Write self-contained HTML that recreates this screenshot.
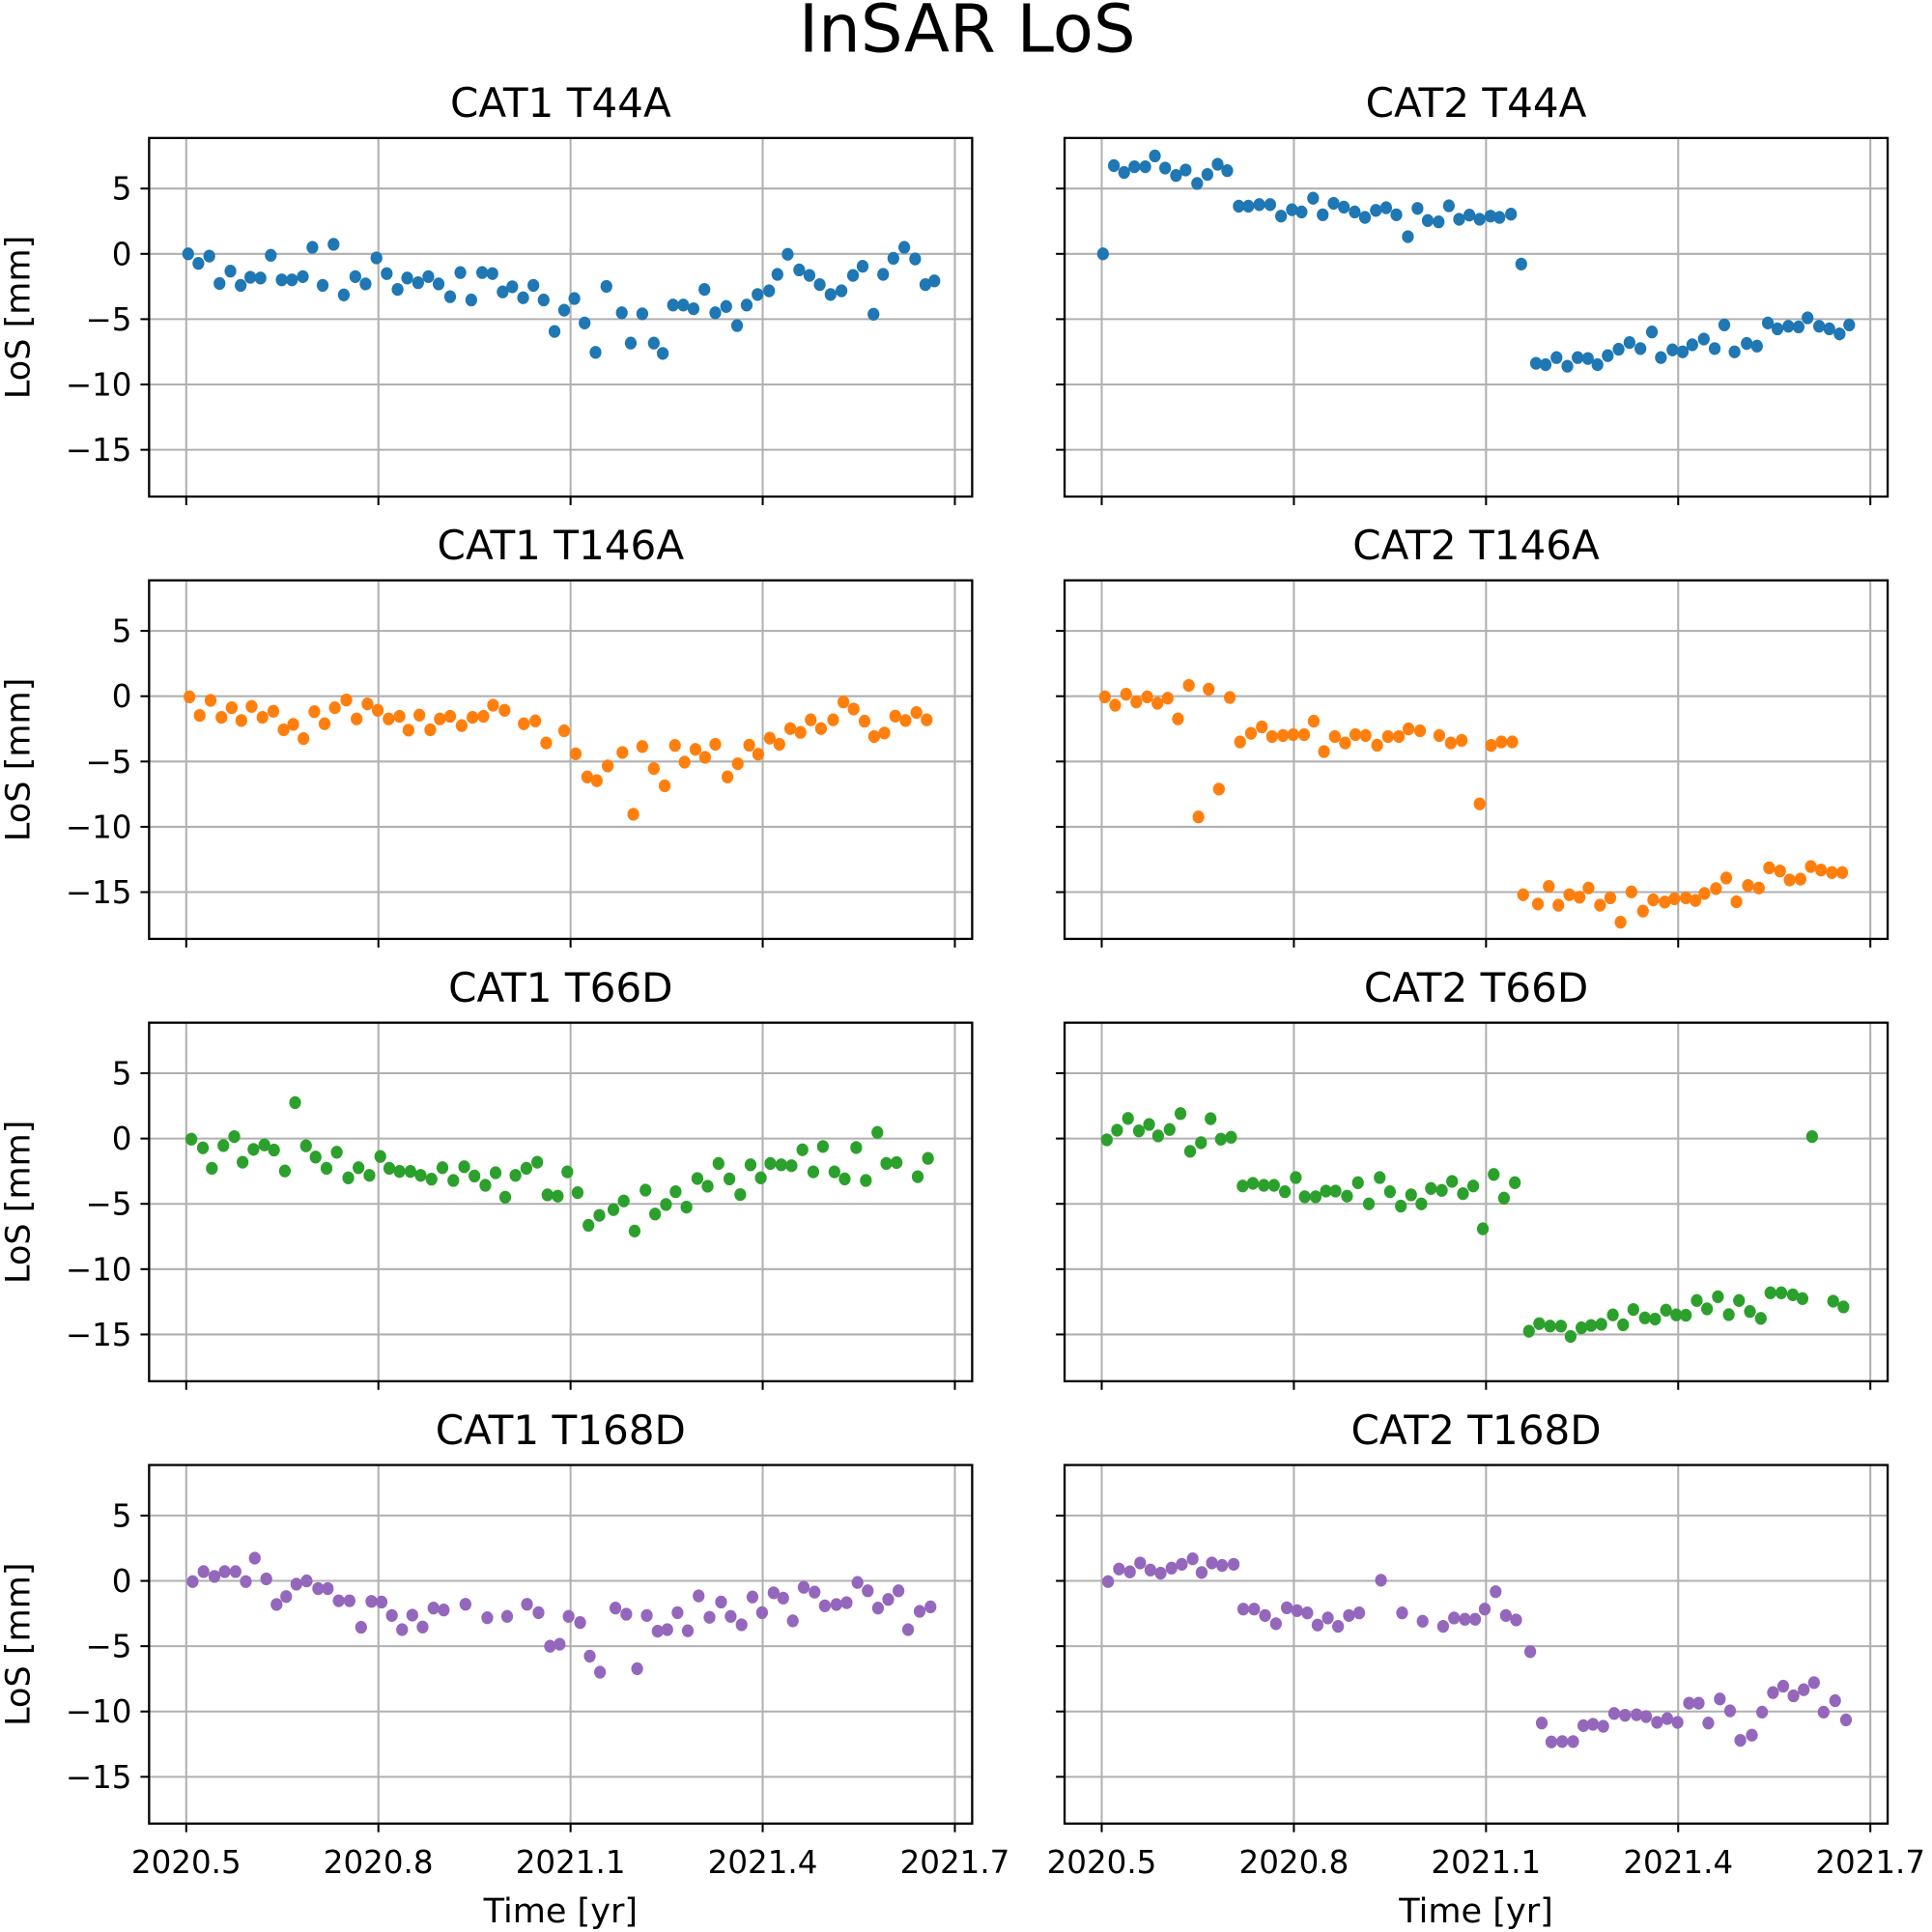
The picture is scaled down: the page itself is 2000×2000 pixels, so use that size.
<!DOCTYPE html>
<html><head><meta charset="utf-8"><style>
html,body{margin:0;padding:0;background:#fff}
svg{display:block}
text{font-family:"DejaVu Sans","Liberation Sans",sans-serif;fill:#000}
</style></head><body>
<svg id="fig" width="2000" height="2000" viewBox="0 0 1568 1568" xmlns="http://www.w3.org/2000/svg">
<rect width="1568" height="1568" fill="#fff"/>
<text x="785" y="42" font-size="54" text-anchor="middle">InSAR LoS</text>
</svg>
<script>
const panelTitles = ["CAT1 T44A","CAT2 T44A","CAT1 T146A","CAT2 T146A","CAT1 T66D","CAT2 T66D","CAT1 T168D","CAT2 T168D"];
const panelColors = ["#1f77b4","#1f77b4","#ff7f0e","#ff7f0e","#2ca02c","#2ca02c","#9467bd","#9467bd"];
const yTicks = [5,0,-5,-10,-15];
const yTickLabels = ["5","0","\u22125","\u221210","\u221215"];
const xTicks = [2020.5,2020.8,2021.1,2021.4,2021.7];
const xTickLabels = ["2020.5","2020.8","2021.1","2021.4","2021.7"];
const yLim = [-18.58, 8.87];
const xLim = [2020.442, 2021.727];

const t0 = [2020.503,2020.519,2020.536,2020.552,2020.569,2020.585,2020.600,2020.616,2020.632,2020.649,2020.665,2020.682,2020.697,2020.713,2020.730,2020.746,2020.764,2020.780,2020.797,2020.813,2020.830,2020.845,2020.862,2020.878,2020.894,2020.912,2020.928,2020.945,2020.962,2020.978,2020.994,2021.009,2021.026,2021.042,2021.058,2021.075,2021.090,2021.106,2021.122,2021.139,2021.156,2021.180,2021.194,2021.212,2021.230,2021.244,2021.260,2021.276,2021.292,2021.309,2021.326,2021.343,2021.360,2021.375,2021.392,2021.410,2021.423,2021.439,2021.457,2021.473,2021.489,2021.506,2021.523,2021.541,2021.556,2021.573,2021.588,2021.604,2021.621,2021.638,2021.654,2021.668];
const v0 = [0,-0.73,-0.17,-2.27,-1.32,-2.41,-1.79,-1.85,-0.11,-1.99,-1.99,-1.74,0.50,-2.41,0.73,-3.14,-1.74,-2.30,-0.31,-1.51,-2.72,-1.85,-2.21,-1.74,-2.30,-3.28,-1.43,-3.53,-1.43,-1.51,-2.91,-2.52,-3.36,-2.41,-3.53,-5.94,-4.31,-3.42,-5.29,-7.54,-2.49,-4.51,-6.83,-4.59,-6.83,-7.62,-3.92,-3.92,-4.20,-2.72,-4.51,-4.03,-5.49,-3.92,-3.11,-2.83,-1.57,-0.03,-1.23,-1.65,-2.35,-3.11,-2.83,-1.65,-0.95,-4.62,-1.57,-0.34,0.50,-0.39,-2.35,-2.07];

const t1 = [2020.502,2020.519,2020.535,2020.551,2020.568,2020.583,2020.599,2020.616,2020.631,2020.649,2020.665,2020.681,2020.696,2020.714,2020.729,2020.746,2020.763,2020.780,2020.797,2020.812,2020.830,2020.845,2020.862,2020.878,2020.895,2020.911,2020.928,2020.944,2020.960,2020.978,2020.993,2021.009,2021.026,2021.042,2021.058,2021.074,2021.090,2021.107,2021.121,2021.139,2021.155,2021.178,2021.193,2021.210,2021.227,2021.243,2021.259,2021.274,2021.290,2021.307,2021.324,2021.341,2021.359,2021.373,2021.391,2021.407,2021.422,2021.440,2021.457,2021.472,2021.488,2021.507,2021.523,2021.540,2021.555,2021.572,2021.588,2021.602,2021.620,2021.636,2021.652,2021.667];
const v1 = [0,6.76,6.23,6.67,6.67,7.50,6.57,6.00,6.42,5.39,6.08,6.86,6.37,3.65,3.65,3.77,3.77,2.89,3.38,3.21,4.26,2.99,3.87,3.58,3.21,2.79,3.33,3.53,2.99,1.32,3.48,2.55,2.45,3.68,2.65,2.97,2.65,2.89,2.79,3.04,-0.78,-8.38,-8.48,-7.94,-8.60,-7.94,-8.01,-8.48,-7.79,-7.30,-6.79,-7.25,-5.98,-7.94,-7.35,-7.50,-6.96,-6.52,-7.25,-5.44,-7.50,-6.86,-7.06,-5.29,-5.74,-5.54,-5.59,-4.90,-5.54,-5.74,-6.13,-5.44];

const t2 = [2020.505,2020.521,2020.538,2020.555,2020.571,2020.586,2020.602,2020.619,2020.636,2020.652,2020.667,2020.683,2020.700,2020.716,2020.732,2020.750,2020.766,2020.783,2020.799,2020.816,2020.833,2020.847,2020.864,2020.881,2020.896,2020.912,2020.930,2020.947,2020.964,2020.979,2020.997,2021.027,2021.045,2021.062,2021.090,2021.108,2021.126,2021.141,2021.158,2021.181,2021.198,2021.212,2021.230,2021.247,2021.263,2021.278,2021.295,2021.310,2021.326,2021.345,2021.361,2021.379,2021.393,2021.411,2021.426,2021.443,2021.459,2021.475,2021.491,2021.510,2021.526,2021.542,2021.559,2021.574,2021.590,2021.607,2021.623,2021.640,2021.656];
const v2 = [-0.05,-1.47,-0.32,-1.62,-0.88,-1.86,-0.78,-1.62,-1.15,-2.57,-2.16,-3.24,-1.18,-2.11,-0.88,-0.29,-1.74,-0.59,-1.08,-1.74,-1.54,-2.60,-1.45,-2.57,-1.74,-1.54,-2.25,-1.62,-1.54,-0.69,-1.08,-2.11,-1.89,-3.58,-2.65,-4.41,-6.18,-6.47,-5.34,-4.31,-9.04,-3.85,-5.54,-6.86,-3.77,-5.05,-4.07,-4.68,-3.68,-6.18,-5.17,-3.75,-4.44,-3.21,-3.68,-2.48,-2.77,-1.81,-2.48,-1.81,-0.44,-0.98,-1.91,-3.09,-2.82,-1.52,-1.86,-1.25,-1.81];

const t3 = [2020.505,2020.521,2020.538,2020.554,2020.571,2020.587,2020.603,2020.619,2020.636,2020.651,2020.667,2020.683,2020.700,2020.716,2020.733,2020.750,2020.766,2020.783,2020.799,2020.816,2020.831,2020.847,2020.864,2020.880,2020.896,2020.912,2020.930,2020.947,2020.964,2020.979,2020.997,2021.027,2021.045,2021.062,2021.090,2021.108,2021.124,2021.141,2021.158,2021.181,2021.198,2021.213,2021.230,2021.246,2021.260,2021.278,2021.294,2021.310,2021.327,2021.345,2021.361,2021.379,2021.394,2021.412,2021.427,2021.441,2021.459,2021.475,2021.491,2021.509,2021.526,2021.542,2021.559,2021.574,2021.591,2021.607,2021.623,2021.640,2021.656];
const v3 = [-0.05,-0.69,0.15,-0.44,-0.05,-0.54,-0.15,-1.74,0.83,-9.24,0.54,-7.11,-0.10,-3.50,-2.84,-2.35,-3.09,-3.01,-2.94,-2.94,-1.91,-4.24,-3.09,-3.58,-2.94,-3.01,-3.75,-3.09,-3.09,-2.50,-2.65,-3.01,-3.58,-3.38,-8.24,-3.77,-3.50,-3.50,-15.20,-15.91,-14.56,-16.00,-15.20,-15.39,-14.68,-16.00,-15.44,-17.30,-14.98,-16.45,-15.59,-15.76,-15.51,-15.44,-15.64,-15.10,-14.73,-13.92,-15.74,-14.49,-14.68,-13.14,-13.38,-14.07,-14.00,-13.04,-13.31,-13.50,-13.50];

const t4 = [2020.508,2020.526,2020.540,2020.558,2020.575,2020.588,2020.605,2020.622,2020.637,2020.654,2020.670,2020.687,2020.702,2020.719,2020.735,2020.753,2020.769,2020.786,2020.803,2020.817,2020.833,2020.850,2020.866,2020.883,2020.900,2020.917,2020.934,2020.950,2020.967,2020.983,2020.998,2021.014,2021.031,2021.048,2021.064,2021.080,2021.095,2021.111,2021.128,2021.145,2021.167,2021.183,2021.200,2021.217,2021.232,2021.249,2021.264,2021.281,2021.298,2021.314,2021.331,2021.348,2021.365,2021.381,2021.397,2021.412,2021.429,2021.445,2021.462,2021.479,2021.494,2021.512,2021.528,2021.546,2021.561,2021.579,2021.593,2021.609,2021.642,2021.658];
const v4 = [-0.05,-0.71,-2.28,-0.54,0.15,-1.81,-0.83,-0.49,-0.88,-2.48,2.75,-0.56,-1.42,-2.28,-1.05,-3.01,-2.23,-2.82,-1.37,-2.28,-2.52,-2.52,-2.82,-3.11,-2.23,-3.21,-2.16,-2.87,-3.58,-2.62,-4.49,-2.82,-2.28,-1.81,-4.31,-4.41,-2.55,-4.14,-6.64,-5.88,-5.44,-4.78,-7.08,-3.95,-5.78,-5.05,-4.07,-5.25,-3.06,-3.65,-1.91,-3.09,-4.29,-2.01,-3.01,-1.91,-2.01,-2.08,-0.86,-2.55,-0.61,-2.55,-3.09,-0.69,-3.21,0.47,-1.91,-1.84,-2.92,-1.52];

const t5 = [2020.508,2020.524,2020.541,2020.558,2020.574,2020.588,2020.606,2020.623,2020.638,2020.655,2020.670,2020.686,2020.702,2020.720,2020.736,2020.753,2020.769,2020.786,2020.803,2020.817,2020.834,2020.850,2020.865,2020.883,2020.900,2020.917,2020.934,2020.950,2020.967,2020.983,2020.999,2021.014,2021.031,2021.047,2021.064,2021.080,2021.095,2021.112,2021.128,2021.145,2021.167,2021.183,2021.200,2021.217,2021.232,2021.249,2021.264,2021.280,2021.298,2021.314,2021.330,2021.348,2021.364,2021.381,2021.397,2021.412,2021.429,2021.445,2021.462,2021.479,2021.495,2021.512,2021.529,2021.544,2021.561,2021.579,2021.594,2021.609,2021.642,2021.658];
const v5 = [-0.10,0.64,1.54,0.59,1.08,0.20,0.69,1.91,-0.98,-0.32,1.52,-0.05,0.10,-3.63,-3.43,-3.58,-3.58,-4.07,-2.99,-4.46,-4.46,-4.02,-4.02,-4.41,-3.38,-5.00,-2.99,-4.07,-5.17,-4.31,-5.00,-3.82,-3.97,-3.28,-4.22,-3.63,-6.91,-2.75,-4.56,-3.38,-14.75,-14.17,-14.36,-14.36,-15.15,-14.49,-14.31,-14.22,-13.50,-14.26,-13.09,-13.73,-13.82,-13.14,-13.50,-13.53,-12.40,-13.04,-12.11,-13.48,-12.40,-13.24,-13.77,-11.81,-11.81,-11.96,-12.25,0.15,-12.45,-12.89];

const t6 = [2020.510,2020.527,2020.544,2020.560,2020.577,2020.593,2020.607,2020.625,2020.641,2020.656,2020.672,2020.688,2020.706,2020.721,2020.738,2020.755,2020.773,2020.789,2020.805,2020.821,2020.837,2020.853,2020.869,2020.886,2020.902,2020.936,2020.970,2021.001,2021.032,2021.050,2021.068,2021.083,2021.097,2021.115,2021.130,2021.146,2021.170,2021.187,2021.204,2021.219,2021.236,2021.251,2021.267,2021.283,2021.300,2021.317,2021.335,2021.350,2021.367,2021.384,2021.399,2021.417,2021.432,2021.447,2021.464,2021.481,2021.497,2021.515,2021.531,2021.548,2021.564,2021.580,2021.596,2021.612,2021.627,2021.645,2021.662];
const v6 = [-0.05,0.71,0.34,0.71,0.71,-0.05,1.74,0.15,-1.81,-1.20,-0.25,0,-0.59,-0.59,-1.52,-1.52,-3.55,-1.57,-1.62,-2.65,-3.73,-2.62,-3.53,-2.08,-2.23,-1.79,-2.82,-2.72,-1.79,-2.43,-5.00,-4.85,-2.72,-3.19,-5.76,-6.99,-2.08,-2.55,-6.72,-2.65,-3.85,-3.73,-2.43,-3.82,-1.15,-2.79,-1.62,-2.72,-3.36,-1.23,-2.43,-0.91,-1.32,-3.06,-0.49,-0.86,-1.91,-1.81,-1.67,-0.12,-0.76,-2.08,-1.42,-0.76,-3.73,-2.33,-1.99];

const t7 = [2020.510,2020.527,2020.544,2020.560,2020.576,2020.592,2020.609,2020.625,2020.642,2020.656,2020.672,2020.688,2020.706,2020.721,2020.738,2020.755,2020.772,2020.789,2020.805,2020.821,2020.837,2020.853,2020.869,2020.886,2020.902,2020.936,2020.969,2021.001,2021.033,2021.050,2021.067,2021.083,2021.098,2021.115,2021.131,2021.147,2021.169,2021.187,2021.202,2021.219,2021.236,2021.252,2021.267,2021.283,2021.300,2021.317,2021.335,2021.350,2021.367,2021.383,2021.399,2021.417,2021.432,2021.447,2021.465,2021.481,2021.497,2021.515,2021.531,2021.548,2021.564,2021.580,2021.596,2021.612,2021.627,2021.645,2021.662];
const v7 = [-0.05,0.91,0.69,1.37,0.83,0.59,0.98,1.27,1.69,0.64,1.37,1.18,1.27,-2.16,-2.16,-2.65,-3.28,-2.06,-2.28,-2.45,-3.38,-2.84,-3.48,-2.65,-2.45,0.05,-2.45,-3.09,-3.48,-2.84,-2.94,-2.94,-2.16,-0.83,-2.65,-2.99,-5.42,-10.88,-12.33,-12.30,-12.30,-11.08,-10.98,-11.13,-10.15,-10.29,-10.25,-10.39,-10.83,-10.54,-10.83,-9.36,-9.36,-10.88,-9.04,-9.95,-12.21,-11.81,-10.05,-8.55,-8.06,-8.80,-8.33,-7.79,-10.05,-9.17,-10.64];

const seriesT = [t0,t1,t2,t3,t4,t5,t6,t7];
const seriesV = [v0,v1,v2,v3,v4,v5,v6,v7];

const NS = "http://www.w3.org/2000/svg";
const svg = document.getElementById('fig');
const colLeft = [121, 864], axW = 668, rowTop = [112, 471, 830, 1189], axH = 291;
function mk(tag, attrs, parent){const e=document.createElementNS(NS,tag);for(const k in attrs)e.setAttribute(k,attrs[k]);(parent||svg).appendChild(e);return e;}

for (let p = 0; p < 8; p++) {
  const col = p % 2, row = Math.floor(p / 2);
  const L = colLeft[col], T = rowTop[row];
  const xs = v => L + (v - xLim[0]) / (xLim[1] - xLim[0]) * axW;
  const ys = v => T + (yLim[1] - v) / (yLim[1] - yLim[0]) * axH;
  const g = mk('g', {});
  
  
  const title = mk('text', {x: L + axW/2, y: T - 17, 'font-size': 33, 'text-anchor': 'middle'}, g);
  title.textContent = panelTitles[p];
  
  
  xTicks.forEach((xv, i) => {
    const x = xs(xv);
    if (x <= L + axW + 0.5) {
      const gl = mk('line', {x1: x, x2: x, y1: T, y2: T + axH, stroke: '#b0b0b0', 'stroke-width': 1.6}, g);
      
      
    }
    const tk = mk('line', {x1: x, x2: x, y1: T + axH, y2: T + axH + 7, stroke: '#000', 'stroke-width': 1.6}, g);
    
    
    if (row === 3) {
      const tl = mk('text', {x: x, y: T + axH + 40, 'font-size': 25.5, 'text-anchor': 'middle'}, g);
      tl.textContent = xTickLabels[i];
      
      
    }
  });
  yTicks.forEach((yv, i) => {
    const y = ys(yv);
    const gl = mk('line', {x1: L, x2: L + axW, y1: y, y2: y, stroke: '#b0b0b0', 'stroke-width': 1.6}, g);
    
    
    const tk = mk('line', {x1: L - 7, x2: L, y1: y, y2: y, stroke: '#000', 'stroke-width': 1.6}, g);
    
    
    if (col === 0) {
      const tl = mk('text', {x: L - 14, y: y + 9, 'font-size': 25.5, 'text-anchor': 'end'}, g);
      tl.textContent = yTickLabels[i];
      
      
    }
  });
  const tArr = seriesT[p], vArr = seriesV[p];
  for (let i = 0; i < tArr.length; i++) {
    const c = mk('ellipse', {cx: xs(tArr[i]), cy: ys(vArr[i]), rx: 4.8, ry: 5.2, fill: panelColors[p]}, g);
    
    
  }
  const fr = mk('rect', {x: L, y: T, width: axW, height: axH, fill: 'none', stroke: '#000', 'stroke-width': 1.8}, g);
  
  
  if (col === 0) {
    const yl = mk('text', {x: 0, y: 0, 'font-size': 27.5, 'text-anchor': 'middle', transform: 'translate(' + 24 + ',' + (T + axH/2) + ') rotate(-90)'}, g);
    yl.textContent = 'LoS [mm]';
    
    
  }
  if (row === 3) {
    const xl = mk('text', {x: L + axW/2, y: 1560, 'font-size': 27.5, 'text-anchor': 'middle'}, g);
    xl.textContent = 'Time [yr]';
    
    
  }
}
</script>
</body></html>
